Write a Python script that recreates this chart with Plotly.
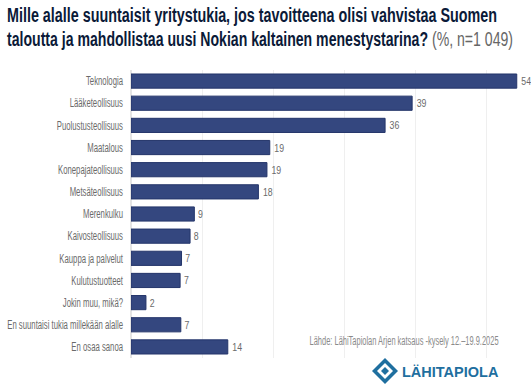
import plotly.graph_objects as go

categories = ["Teknologia", "Lääketeollisuus", "Puolustusteollisuus", "Maatalous", "Konepajateollisuus",
              "Metsäteollisuus", "Merenkulku", "Kaivosteollisuus", "Kauppa ja palvelut", "Kulutustuotteet",
              "Jokin muu, mikä?", "En suuntaisi tukia millekään alalle", "En osaa sanoa"]
values = [54.2, 39.5, 35.7, 19.5, 19.1, 17.9, 8.9, 8.3, 7.1, 6.9, 2.1, 7.0, 13.6]
labels = ["54", "39", "36", "19", "19", "18", "9", "8", "7", "7", "2", "7", "14"]
title_1 = "Mille alalle suuntaisit yritystukia, jos tavoitteena olisi vahvistaa Suomen"
title_2 = "taloutta ja mahdollistaa uusi Nokian kaltainen menestystarina?"
title_tail = "(%, n=1 049)"
source = "Lähde: LähiTapiolan Arjen katsaus -kysely 12.–19.9.2025"
brand = "LÄHITAPIOLA"
FONT = "Liberation Sans, Arial, sans-serif"
L, T, R, B = 131, 70, 5, 26
PW, PH = 531 - L - R, 384 - T - B

def px(x, y):
    return (x - L) / PW, (384 - B - y) / PH

def diamond(cx, cy, r):
    pts = [px(cx, cy - r), px(cx + r, cy), px(cx, cy + r), px(cx - r, cy)]
    return "M " + " L ".join(f"{a} {b}" for a, b in pts) + " Z"

fig = go.Figure(go.Bar(
    x=values, y=categories, orientation="h", width=0.64,
    marker=dict(color="#34477f", line=dict(color="#24356a", width=1)),
    text=labels, textposition="outside", cliponaxis=False,
    textfont=dict(family=FONT, size=11.5, color="#6a6a6a"),
))

def note(x, y, text, **kw):
    ax, ay = px(x, y)
    return dict(xref="paper", yref="paper", x=ax, y=ay, yanchor="middle", showarrow=False, text=text, **kw)

fig.update_layout(
    width=531, height=384, paper_bgcolor="white", plot_bgcolor="white", showlegend=False,
    margin=dict(l=L, r=R, t=T, b=B, pad=0), font=dict(family=FONT),
    xaxis=dict(range=[0, 55.5], dtick=10, showticklabels=False, showgrid=True, gridcolor="#efefef",
               zeroline=True, zerolinecolor="#e4e4e4", ticks="", automargin=False),
    yaxis=dict(autorange="reversed", tickfont=dict(family=FONT, size=12, color="#6a6a6a"),
               ticks="", ticklabelstandoff=7, showgrid=False, automargin=False),
    annotations=[
        note(5, 15, f"<b>{title_1}</b>", xanchor="left", align="left",
             font=dict(family=FONT, size=20, color="#0b1a38")),
        note(5, 39, f"<b>{title_2}</b> <span style='color:#666'>{title_tail}</span>", xanchor="left", align="left",
             font=dict(family=FONT, size=20, color="#0b1a38")),
        note(501, 341, source, xanchor="right", align="right", font=dict(family=FONT, size=12, color="#8a8a8a")),
        note(400, 372, f"<b>{brand}</b>", xanchor="left", align="left",
             font=dict(family=FONT, size=14.5, color="#1f6f9f")),
    ],
)
fig.add_shape(type="path", xref="paper", yref="paper", path=diamond(385, 371, 13), fillcolor="#1f6f9f", line_width=0, layer="above")
fig.add_shape(type="path", xref="paper", yref="paper", path=diamond(385, 371, 8), fillcolor="white", line_width=0, layer="above")
fig.add_shape(type="path", xref="paper", yref="paper", path=diamond(385, 371, 4), fillcolor="#1f6f9f", line_width=0, layer="above")

# The reference uses a condensed face; none is installed, so real text is narrowed with SVG textLength.
post = """
document.body.style.margin = '0';
var gd = document.querySelector('.js-plotly-plot');
function fit(el, w){ el.setAttribute('textLength', w); el.setAttribute('lengthAdjust', 'spacingAndGlyphs'); }
gd.querySelectorAll('.ytick text').forEach(function(t){ fit(t, t.getComputedTextLength()*0.645); });
gd.querySelectorAll('.bartext').forEach(function(t){ fit(t, t.getComputedTextLength()*0.76); });
gd.querySelectorAll('.annotation-text').forEach(function(t){
  var s = t.textContent;
  if (s.indexOf('Mille') === 0) fit(t, 490);
  else if (s.indexOf('taloutta') === 0) fit(t, 506);
  else if (s.indexOf('Lähde') === 0) fit(t, 189);
});
"""
fig.write_html("out.html", post_script=post, config=dict(displayModeBar=False))
